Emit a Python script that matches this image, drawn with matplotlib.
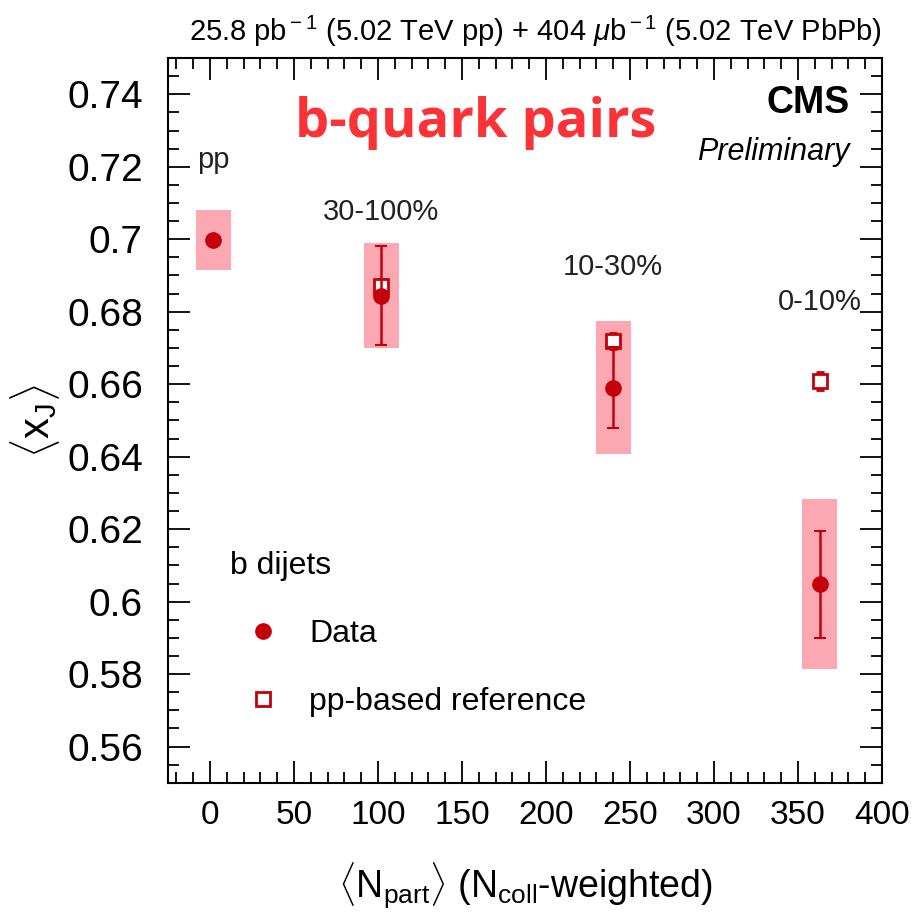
import matplotlib
matplotlib.use("Agg")
import matplotlib.pyplot as plt
from matplotlib.lines import Line2D
from matplotlib.ticker import MultipleLocator

FONT = "Liberation Sans"
plt.rcParams["font.family"] = [FONT, "DejaVu Sans"]
plt.rcParams["mathtext.fontset"] = "custom"
plt.rcParams["mathtext.rm"] = FONT
plt.rcParams["mathtext.it"] = FONT + ":italic"

# centrality classes
labels = ["pp", "30-100%", "10-30%", "0-10%"]
npart = [2, 102, 240, 363]
data_val = [0.6998, 0.6844, 0.6590, 0.6048]
data_stat = [0.0010, 0.0137, 0.0112, 0.0148]
data_sys = [0.0082, 0.0145, 0.0183, 0.0234]
label_y = [0.7218, 0.7075, 0.6924, 0.6827]

# pp-based reference (PbPb classes only)
ref_npart = [102, 240, 363]
ref_val = [0.6870, 0.6718, 0.6608]
ref_err = [0.0020, 0.0022, 0.0025]

RED = "#c4000b"
PINK = "#fba8b3"

fig = plt.figure(figsize=(9.23, 9.21), dpi=100)
ax = fig.add_axes([0.182, 0.150, 0.7735, 0.787])

# systematic boxes
sys_lo = [v - s for v, s in zip(data_val, data_sys)]
ax.bar(npart, [2 * s for s in data_sys], bottom=sys_lo, width=21, color=PINK, zorder=1)

ax.errorbar(ref_npart, ref_val, yerr=ref_err, fmt="s", ms=10, mfc="white", mec=RED,
            mew=2, color=RED, elinewidth=1.5, capsize=3, zorder=2)
ax.errorbar(npart, data_val, yerr=data_stat, fmt="o", ms=11, color=RED,
            elinewidth=1.8, capsize=4, capthick=1.5, zorder=3)

for x, y, t in zip(npart, label_y, labels):
    ax.text(x, y, t, ha="center", va="center", fontsize=21, color="#222222")

ax.set_xlim(-25, 400)
ax.set_ylim(0.55, 0.75)
ax.xaxis.set_major_locator(MultipleLocator(50))
ax.xaxis.set_minor_locator(MultipleLocator(10))
ax.yaxis.set_minor_locator(MultipleLocator(0.005))
ax.set_yticks([0.56, 0.58, 0.6, 0.62, 0.64, 0.66, 0.68, 0.7, 0.72, 0.74])
ax.set_yticklabels(["0.56", "0.58", "0.6", "0.62", "0.64", "0.66", "0.68", "0.7", "0.72", "0.74"])
ax.tick_params(which="both", direction="in", top=True, right=True, width=1.3)
ax.tick_params(which="major", length=16)
ax.tick_params(which="minor", length=8)
ax.tick_params(axis="y", labelsize=28, pad=18)
ax.tick_params(axis="x", labelsize=24, pad=12)
for sp in ax.spines.values():
    sp.set_linewidth(1.5)

ax.set_xlabel(r"$\langle$N$_{\rm part}\rangle$ (N$_{\rm coll}$-weighted)", fontsize=27, labelpad=22)
ax.set_ylabel(r"$\langle$x$_{\rm J}\rangle$", fontsize=30, labelpad=4)

fig.text(0.9556, 0.966, r"25.8 pb$^{\rm -1}$ (5.02 TeV pp) + 404 $\mu$b$^{\rm -1}$ (5.02 TeV PbPb)",
         ha="right", va="center", fontsize=21)

ax.text(0.955, 0.938, "CMS", transform=ax.transAxes, ha="right", va="center",
        fontsize=27, fontweight="bold")
ax.text(0.955, 0.870, "Preliminary", transform=ax.transAxes, ha="right", va="center",
        fontsize=22, style="italic")
ax.text(0.431, 0.91, "b-quark pairs", transform=ax.transAxes, ha="center", va="center",
        fontsize=39, fontweight="bold", color="#fc3336", family=["Open Sans", "DejaVu Sans"])

handles = [
    Line2D([], [], marker="o", ls="none", ms=11, color=RED),
    Line2D([], [], marker="s", ls="none", ms=10, mfc="white", mec=RED, mew=2),
]
ax.legend(handles, ["Data", "pp-based reference"], title="b dijets", loc="upper left",
          bbox_to_anchor=(0.046, 0.360), frameon=False, fontsize=23, title_fontsize=23,
          alignment="left", handlelength=2.1, handletextpad=0.4, labelspacing=1.2)

fig.savefig("out.png", dpi=100)
